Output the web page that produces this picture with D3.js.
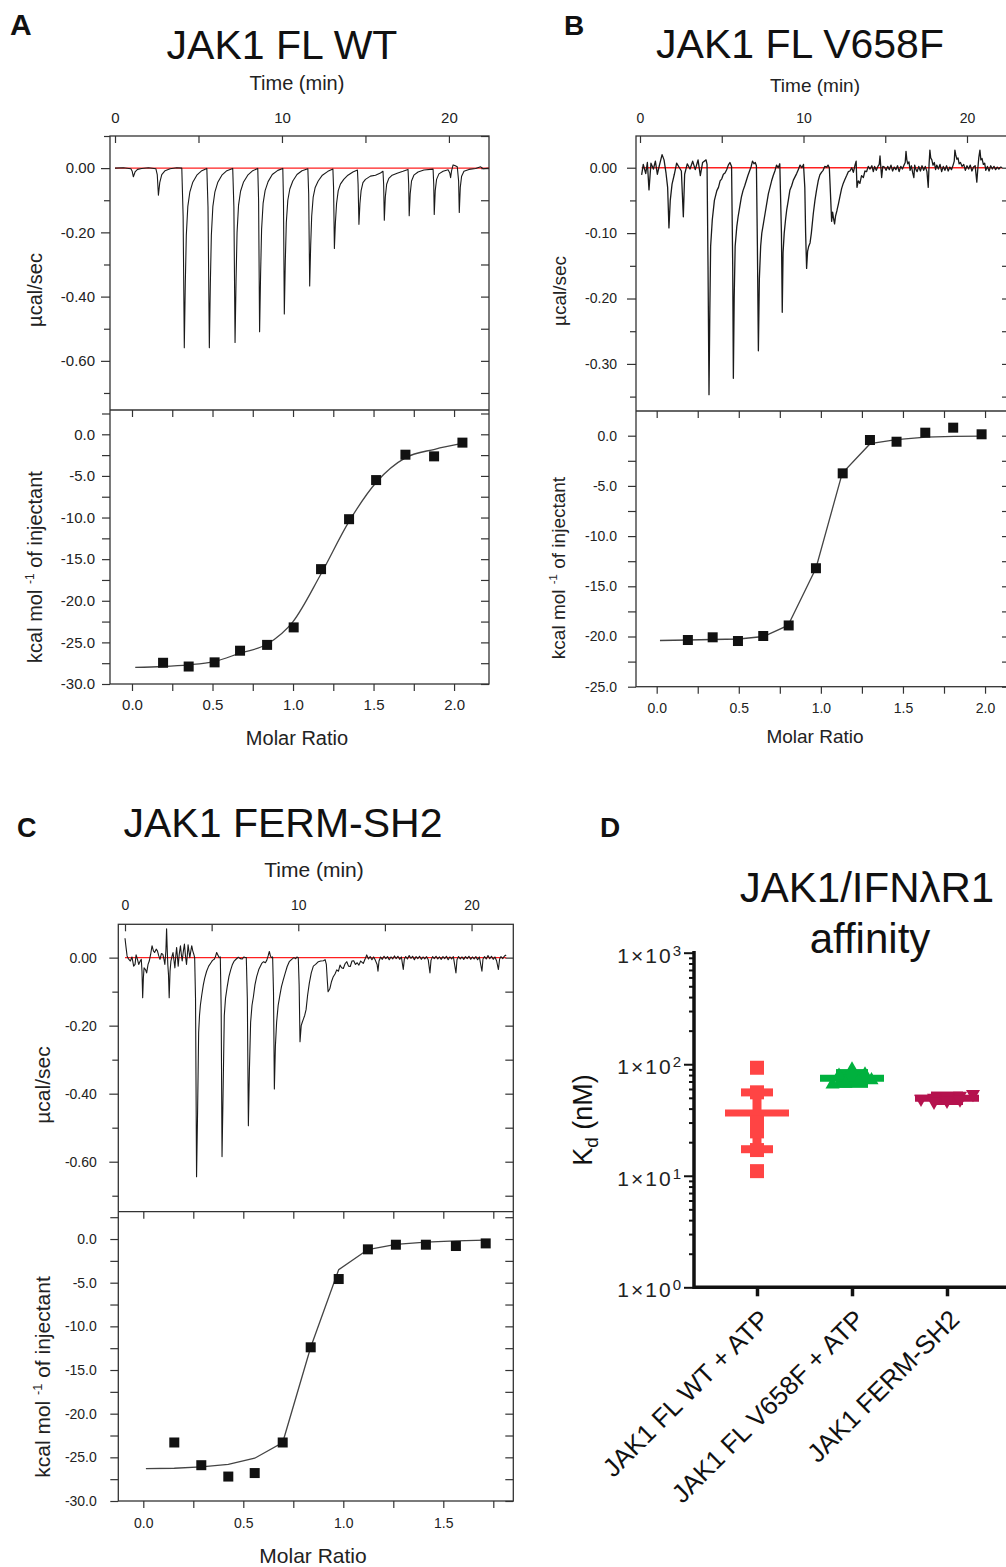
<!DOCTYPE html>
<html>
<head>
<meta charset="utf-8">
<script src="https://cdn.jsdelivr.net/npm/d3@7"></script>
<style>
  body { margin: 0; background: #fff; }
  svg { display: block; }
</style>
</head>
<body>
<script>
const FONT = '"Liberation Sans", Arial, Helvetica, sans-serif'

// ---- raw thermograms [time (min), µcal/sec] ----
const wtTrace = [[0.0,0],[0.5,0.001],[0.95,-0.002],[1.03,-0.01],[1.1,-0.027],[1.2,-0.012],[1.35,-0.004],[1.6,-0.001],[2.0,0.001],[2.45,-0.002],[2.53,-0.02],[2.6,-0.084],[2.68,-0.045],[2.8,-0.02],[3.0,-0.008],[3.3,-0.002],[3.7,0.001],[4.0,0],
  [4.08,-0.15],[4.15,-0.559],[4.21,-0.36],[4.27,-0.21],[4.36,-0.12],[4.48,-0.075],[4.65,-0.045],[4.9,-0.022],[5.2,-0.008],[5.5,-0.001],
  [5.57,-0.12],[5.65,-0.559],[5.71,-0.36],[5.77,-0.21],[5.86,-0.12],[5.98,-0.075],[6.15,-0.045],[6.4,-0.022],[6.7,-0.008],[7.05,-0.001],
  [7.12,-0.12],[7.19,-0.543],[7.25,-0.35],[7.31,-0.2],[7.4,-0.115],[7.52,-0.072],[7.7,-0.043],[7.95,-0.022],[8.25,-0.008],[8.55,-0.001],
  [8.6,-0.1],[8.66,-0.509],[8.72,-0.33],[8.78,-0.19],[8.87,-0.11],[8.99,-0.07],[9.17,-0.042],[9.42,-0.02],[9.75,-0.007],[10.05,-0.001],
  [10.09,-0.1],[10.14,-0.454],[10.2,-0.29],[10.26,-0.17],[10.35,-0.1],[10.47,-0.065],[10.65,-0.04],[10.9,-0.02],[11.2,-0.008],[11.55,-0.002],
  [11.6,-0.08],[11.66,-0.367],[11.72,-0.24],[11.78,-0.15],[11.87,-0.09],[11.99,-0.06],[12.17,-0.04],[12.42,-0.022],[12.75,-0.01],[13.05,-0.003],
  [13.09,-0.06],[13.14,-0.25],[13.2,-0.17],[13.27,-0.11],[13.37,-0.07],[13.5,-0.05],[13.7,-0.035],[13.95,-0.022],[14.25,-0.012],[14.52,-0.006],
  [14.56,-0.05],[14.61,-0.175],[14.67,-0.11],[14.74,-0.07],[14.85,-0.045],[15.0,-0.035],[15.3,-0.025],[15.6,-0.022],[15.9,-0.015],[16.05,-0.01],
  [16.09,-0.05],[16.13,-0.162],[16.19,-0.09],[16.27,-0.05],[16.4,-0.032],[16.6,-0.022],[16.9,-0.016],[17.25,-0.01],[17.55,-0.004],
  [17.59,-0.05],[17.62,-0.148],[17.68,-0.08],[17.76,-0.04],[17.9,-0.022],[18.15,-0.012],[18.5,-0.006],[19.05,-0.003],
  [19.09,-0.05],[19.12,-0.144],[19.18,-0.07],[19.26,-0.035],[19.4,-0.018],[19.65,-0.01],[19.95,-0.005],[20.05,-0.015],[20.1,-0.03],[20.16,-0.008],[20.25,0.01],[20.35,0.008],[20.5,0.004],
  [20.58,-0.04],[20.62,-0.138],[20.68,-0.06],[20.76,-0.025],[20.9,-0.01],[21.2,-0.004],[21.6,-0.001],[21.9,0.004],[22.05,-0.002],[22.4,0]]

const vfTrace = [[0.1,-0.011],[0.2,0.005],[0.35,-0.009],[0.45,0.008],[0.55,-0.034],[0.67,0.007],[0.82,-0.002],[0.94,0.01],[1.06,-0.01],[1.18,0.003],[1.35,0.02],[1.47,0.012],[1.59,-0.008],[1.69,-0.03],[1.77,-0.092],[1.85,-0.05],[1.96,-0.025],[2.1,-0.01],[2.24,0.007],[2.41,0.0],[2.53,-0.005],[2.65,-0.075],[2.73,-0.01],[2.89,0.006],[3.06,-0.002],[3.22,0.01],[3.38,-0.003],[3.55,0.012],[3.69,-0.012],[3.83,0.008],[4.04,0.012],
  [4.1,0.005],[4.16,-0.15],[4.22,-0.347],[4.27,-0.22],[4.32,-0.12],[4.42,-0.08],[4.55,-0.05],[4.7,-0.035],[4.8,-0.03],[4.9,-0.02],[5.0,-0.017],[5.1,-0.01],[5.2,-0.008],[5.3,-0.003],[5.4,0.004],[5.5,0.008],[5.6,0.002],
  [5.67,-0.15],[5.71,-0.322],[5.76,-0.2],[5.82,-0.12],[5.92,-0.09],[6.0,-0.075],[6.1,-0.06],[6.2,-0.045],[6.3,-0.035],[6.4,-0.028],[6.5,-0.02],[6.6,-0.012],[6.7,-0.005],[6.8,0.002],[6.88,0.01],[6.97,0.006],[7.05,0.008],
  [7.12,0.003],[7.18,-0.12],[7.24,-0.28],[7.3,-0.17],[7.38,-0.12],[7.45,-0.1],[7.55,-0.085],[7.65,-0.07],[7.75,-0.055],[7.85,-0.04],[7.95,-0.03],[8.05,-0.02],[8.15,-0.012],[8.25,-0.005],[8.35,0.004],[8.45,0.0],[8.55,0.006],
  [8.65,-0.1],[8.7,-0.221],[8.75,-0.13],[8.82,-0.1],[8.9,-0.08],[8.97,-0.065],[9.07,-0.05],[9.17,-0.034],[9.27,-0.028],[9.38,-0.019],[9.48,-0.014],[9.58,-0.009],[9.68,-0.003],[9.79,0.004],[9.9,0.0],[10.0,0.005],
  [10.08,-0.03],[10.13,-0.1],[10.19,-0.154],[10.25,-0.128],[10.32,-0.12],[10.4,-0.115],[10.48,-0.1],[10.6,-0.07],[10.7,-0.05],[10.8,-0.034],[10.9,-0.02],[11.0,-0.011],[11.1,-0.007],[11.2,-0.004],[11.3,0.002],[11.42,0.001],[11.5,0.004],[11.58,0.0],
  [11.65,-0.04],[11.72,-0.082],[11.78,-0.068],[11.84,-0.078],[11.9,-0.086],[11.96,-0.074],[12.05,-0.065],[12.14,-0.055],[12.23,-0.044],[12.33,-0.032],[12.43,-0.024],[12.53,-0.018],[12.64,-0.012],[12.74,-0.006],[12.84,-0.005],[12.95,0.0],[13.05,-0.007],[13.15,0.004],[13.22,0.01],[13.27,-0.03],[13.35,-0.02],[13.45,-0.024],[13.55,-0.012],[13.66,-0.015],[13.76,-0.005],[13.86,-0.006],[13.96,0.002],[14.07,-0.002],[14.18,0.003],[14.27,-0.006],[14.35,0.002],[14.45,-0.004],[14.55,0.002],[14.63,0.005],[14.68,0.018],[14.72,0.004],[14.78,-0.015],[14.85,0.002],[14.95,0.001],
  [15.05,-0.004],[15.15,0.002],[15.25,-0.003],[15.35,0.004],[15.45,-0.005],[15.55,0.001],[15.65,-0.003],[15.75,0.003],[15.85,-0.006],[15.95,0.002],[16.05,-0.002],[16.15,0.004],[16.22,0.008],[16.27,0.025],[16.32,0.012],[16.38,0.006],[16.45,0.009],[16.52,-0.004],[16.6,0.003],[16.68,-0.008],[16.75,-0.015],[16.8,0.004],[16.88,-0.003],[16.95,-0.006],[17.05,0.002],[17.15,-0.005],[17.25,0.003],[17.35,-0.004],[17.45,0.002],[17.55,-0.006],[17.63,-0.03],[17.68,0.005],[17.73,0.027],[17.78,0.015],[17.85,0.012],[17.92,0.004],[18.0,0.008],[18.08,-0.003],[18.15,0.004],[18.25,-0.002],[18.35,0.005],[18.45,-0.006],[18.55,0.002],[18.65,-0.004],[18.75,0.003],[18.85,-0.005],[18.95,0.001],[19.05,-0.003],[19.15,0.004],[19.22,0.01],[19.26,0.027],[19.31,0.02],[19.38,0.013],[19.45,0.015],[19.52,0.006],[19.6,0.008],[19.7,0.002],[19.8,0.005],[19.9,-0.004],[20.0,0.003],[20.1,-0.002],[20.2,0.004],[20.3,-0.005],[20.4,0.001],[20.5,0.003],[20.6,-0.022],[20.66,-0.002],[20.72,0.015],[20.79,0.027],[20.85,0.012],[20.92,0.014],[21.0,0.005],[21.08,0.007],[21.15,-0.004],[21.25,0.002],[21.35,-0.005],[21.45,0.003],[21.55,-0.002],[21.65,0.002],[21.75,-0.003],[21.85,0.001],[21.95,-0.002],[22.05,0.001],[22.15,0.0]]

const fsTrace = [[0.0,0.057],[0.06,0.03],[0.12,0.005],[0.2,-0.004],[0.31,-0.01],[0.4,0.002],[0.5,-0.025],[0.58,-0.02],[0.64,0.008],[0.72,-0.005],[0.79,-0.02],[0.88,-0.01],[0.94,-0.005],[0.98,-0.04],[1.02,-0.118],[1.06,-0.06],[1.1,-0.03],[1.18,-0.035],[1.25,-0.045],[1.33,-0.02],[1.4,-0.01],[1.48,0.01],[1.56,0.035],[1.64,0.02],[1.71,0.015],[1.8,0.025],[1.87,0.02],[1.95,0.005],[2.02,-0.005],[2.1,0.012],[2.18,0.01],[2.25,-0.005],[2.3,-0.02],[2.36,0.02],[2.4,0.085],[2.44,0.02],[2.47,-0.02],[2.51,-0.05],[2.55,-0.118],[2.6,-0.04],[2.65,-0.01],[2.72,0.005],[2.77,0.015],[2.83,-0.01],[2.88,-0.03],[2.93,0.005],[2.98,0.03],[3.03,0.0],[3.07,-0.025],[3.13,0.01],[3.2,0.035],[3.25,0.01],[3.3,-0.01],[3.37,0.02],[3.43,0.04],[3.49,0.005],[3.55,-0.02],[3.6,0.01],[3.64,0.038],[3.7,0.015],[3.74,0.0],[3.8,0.02],[3.85,0.035],[3.91,0.02],[3.97,0.01],[4.02,0.0],
  [4.07,-0.12],[4.13,-0.644],[4.19,-0.45],[4.25,-0.22],[4.3,-0.17],[4.35,-0.14],[4.43,-0.11],[4.52,-0.08],[4.6,-0.06],[4.71,-0.04],[4.83,-0.025],[4.96,-0.015],[5.05,-0.008],[5.15,-0.005],[5.22,0.003],[5.29,0.015],[5.36,0.008],[5.44,0.0],[5.5,0.002],
  [5.55,-0.15],[5.6,-0.585],[5.66,-0.4],[5.73,-0.17],[5.8,-0.12],[5.9,-0.085],[6.0,-0.055],[6.1,-0.036],[6.2,-0.02],[6.3,-0.01],[6.42,-0.004],[6.54,0.001],[6.65,-0.003],[6.77,-0.004],[6.85,0.002],[6.92,0.001],[7.0,0.0],
  [7.06,-0.12],[7.12,-0.494],[7.18,-0.33],[7.25,-0.19],[7.33,-0.14],[7.41,-0.115],[7.5,-0.08],[7.6,-0.056],[7.72,-0.035],[7.89,-0.017],[8.0,-0.012],[8.1,-0.015],[8.18,-0.008],[8.26,0.005],[8.33,0.018],[8.4,0.004],[8.46,0.0],[8.52,0.002],
  [8.57,-0.1],[8.62,-0.386],[8.68,-0.26],[8.75,-0.19],[8.84,-0.14],[8.94,-0.11],[9.03,-0.085],[9.13,-0.066],[9.25,-0.045],[9.36,-0.026],[9.48,-0.012],[9.62,-0.005],[9.75,0.0],[9.85,-0.003],[9.92,0.002],[10.0,0.0],
  [10.05,-0.08],[10.1,-0.247],[10.17,-0.2],[10.23,-0.19],[10.3,-0.18],[10.37,-0.17],[10.45,-0.153],[10.54,-0.11],[10.64,-0.074],[10.75,-0.045],[10.87,-0.025],[11.0,-0.02],[11.16,-0.012],[11.3,-0.01],[11.45,-0.009],[11.55,-0.006],[11.62,-0.02],
  [11.68,-0.07],[11.72,-0.1],[11.78,-0.095],[11.83,-0.09],[11.92,-0.07],[12.02,-0.056],[12.12,-0.048],[12.22,-0.036],[12.32,-0.04],[12.41,-0.022],[12.5,-0.03],[12.6,-0.032],[12.7,-0.018],[12.8,-0.012],[12.9,-0.025],[13.0,-0.026],[13.1,-0.01],[13.2,-0.009],[13.3,-0.02],[13.4,-0.015],[13.5,-0.022],[13.6,-0.01],[13.75,-0.017],[13.85,-0.005],[13.95,0.008],[14.05,-0.004],[14.15,0.003],[14.25,-0.006],[14.35,0.002],[14.45,-0.008],[14.55,-0.02],[14.6,-0.04],[14.66,-0.01],[14.75,0.002],[14.85,-0.005],[14.95,0.004],[15.05,-0.003],[15.15,0.003],[15.25,-0.006],[15.35,0.002],[15.45,-0.004],[15.55,0.005],[15.65,-0.003],[15.75,0.004],[15.85,-0.005],[15.95,0.002],[16.06,-0.035],[16.12,-0.005],[16.2,0.003],[16.3,-0.004],[16.4,0.006],[16.5,-0.002],[16.6,0.004],[16.7,-0.006],[16.8,0.003],[16.9,-0.003],[17.0,0.004],[17.1,-0.005],[17.2,0.002],[17.3,-0.004],[17.4,0.003],[17.5,-0.006],[17.6,-0.045],[17.66,-0.008],[17.75,0.003],[17.85,-0.003],[17.95,0.004],[18.05,-0.004],[18.15,0.002],[18.25,-0.005],[18.35,0.003],[18.45,-0.003],[18.55,0.004],[18.65,-0.006],[18.75,0.002],[18.85,-0.004],[18.95,0.003],[19.1,-0.045],[19.16,-0.006],[19.25,0.003],[19.35,-0.004],[19.45,0.002],[19.55,-0.005],[19.65,0.003],[19.75,-0.003],[19.85,0.004],[19.95,-0.005],[20.05,0.002],[20.15,-0.004],[20.25,0.003],[20.35,-0.006],[20.45,0.002],[20.6,-0.04],[20.66,-0.004],[20.75,0.003],[20.85,-0.004],[20.95,0.006],[21.05,-0.003],[21.15,0.004],[21.25,-0.005],[21.35,0.002],[21.45,-0.01],[21.55,-0.035],[21.62,-0.004],[21.7,0.003],[21.8,-0.003],[21.9,0.005],[22.0,0.008]]

// ---- integrated heats (kcal/mol of injectant) vs molar ratio ----
const wtRatio = [0.193, 0.352, 0.513, 0.671, 0.839, 1.004, 1.174, 1.348, 1.516, 1.698, 1.876, 2.052]
const wtHeat  = [-27.45, -27.9, -27.4, -26.0, -25.3, -23.2, -16.2, -10.2, -5.5, -2.45, -2.65, -1.0]
const wtFitX  = [0.02, 0.19, 0.35, 0.51, 0.67, 0.84, 1.0, 1.17, 1.35, 1.52, 1.70, 1.88, 2.05]
const wtFitY  = [-28.0, -27.9, -27.7, -27.3, -26.3, -25.2, -22.5, -16.9, -10.4, -5.7, -2.8, -1.8, -1.1]

const vfRatio = [0.19, 0.341, 0.495, 0.649, 0.804, 0.970, 1.133, 1.299, 1.461, 1.636, 1.806, 1.979]
const vfHeat  = [-20.35, -20.08, -20.45, -19.95, -18.9, -13.2, -3.75, -0.43, -0.6, 0.3, 0.8, 0.14]
const vfFitX  = [0.02, 0.19, 0.34, 0.5, 0.65, 0.8, 0.97, 1.13, 1.3, 1.46, 1.64, 1.81, 1.98]
const vfFitY  = [-20.4, -20.35, -20.3, -20.25, -20.0, -18.9, -13.2, -3.75, -0.8, -0.4, -0.15, -0.07, -0.05]

const fsRatio = [0.155, 0.29, 0.425, 0.557, 0.697, 0.837, 0.977, 1.123, 1.263, 1.413, 1.563, 1.712]
const fsHeat  = [-23.3, -25.9, -27.2, -26.8, -23.3, -12.4, -4.58, -1.18, -0.65, -0.65, -0.8, -0.5]
const fsFitX  = [0.013, 0.155, 0.29, 0.425, 0.557, 0.697, 0.837, 0.977, 1.123, 1.263, 1.413, 1.563, 1.712]
const fsFitY  = [-26.3, -26.25, -26.1, -25.8, -25.1, -23.3, -12.4, -3.5, -1.2, -0.6, -0.35, -0.2, -0.12]

// ---- panel D: Kd (nM) ----
const kdGroups = ['JAK1 FL WT + ATP', 'JAK1 FL V658F + ATP', 'JAK1 FERM-SH2']
const kdWT    = [93, 56, 30, 25, 17, 11]
const kdVF    = [90, 81, 80, 79, 72, 70, 67, 66]
const kdFS    = [54, 52, 51, 50, 49, 48, 47, 46]
const kdMean  = [36.6, 75, 49.6]
const kdSd    = [19.3, 8.3, 2.8]
const kdColors = ['#ff4444', '#00b13e', '#b5124e']

const svg = d3.select('body').append('svg')
  .attr('width', 1006).attr('height', 1567)
  .attr('font-family', FONT)

function axisInto(g, axisFn, scale, vals, size, pad, fmt, fs) {
  g.call(axisFn(scale).tickValues(vals).tickSize(size).tickPadding(pad).tickFormat(fmt))
  g.attr('font-family', FONT).attr('font-size', fs)
  g.select('.domain').remove()
  g.selectAll('line').attr('stroke', '#333').attr('stroke-width', 1.2)
  g.selectAll('text').attr('fill', '#222')
}

function inDom(vals, dom) {
  let lo = Math.min(...dom), hi = Math.max(...dom)
  return vals.filter(v => v >= lo - 1e-9 && v <= hi + 1e-9)
}

function itcPanel(p) {
  let g = svg.append('g')
  let tx = d3.scaleLinear().domain(p.tDom).range([p.left, p.right])
  let py = d3.scaleLinear().domain(p.pDom).range([p.mid, p.top])
  let mx = d3.scaleLinear().domain(p.mDom).range([p.left, p.right])
  let hy = d3.scaleLinear().domain(p.hDom).range([p.bottom, p.mid])
  let fs = p.tickFont

  // top plot axes
  axisInto(g.append('g').attr('transform', `translate(0,${p.top})`), d3.axisTop, tx, [0, 10, 20], -7, p.padTop, d3.format('d'), fs)
  axisInto(g.append('g').attr('transform', `translate(0,${p.top})`), d3.axisTop, tx, [5, 15], -7, 0, '', fs)
  axisInto(g.append('g').attr('transform', `translate(${p.left},0)`), d3.axisLeft, py, inDom(p.pMajor, p.pDom), 9, p.padLeft, v => v.toFixed(2), fs)
  axisInto(g.append('g').attr('transform', `translate(${p.left},0)`), d3.axisLeft, py, inDom(p.pMinor, p.pDom), 6, 0, '', fs)
  axisInto(g.append('g').attr('transform', `translate(${p.right},0)`), d3.axisRight, py, inDom(p.pMajor.concat(p.pMinor), p.pDom), -8, 0, '', fs)

  // bottom plot axes
  let mMaj = inDom(p.mMajor, p.mDom), mMin = inDom(p.mMinor, p.mDom)
  axisInto(g.append('g').attr('transform', `translate(0,${p.bottom})`), d3.axisBottom, mx, mMaj, 7, p.padBottom, v => v.toFixed(1), fs)
  axisInto(g.append('g').attr('transform', `translate(0,${p.bottom})`), d3.axisBottom, mx, mMin, 7, 0, '', fs)
  axisInto(g.append('g').attr('transform', `translate(0,${p.mid})`), d3.axisTop, mx, mMaj.concat(mMin), -7, 0, '', fs)
  let hMaj = inDom(d3.range(0, -31, -5), p.hDom), hMin = inDom(d3.range(2.5, -31, -5), p.hDom)
  axisInto(g.append('g').attr('transform', `translate(${p.left},0)`), d3.axisLeft, hy, hMaj, 8, p.padLeft + 1, v => v.toFixed(1), fs)
  axisInto(g.append('g').attr('transform', `translate(${p.left},0)`), d3.axisLeft, hy, hMin, 8, 0, '', fs)
  axisInto(g.append('g').attr('transform', `translate(${p.right},0)`), d3.axisRight, hy, hMaj.concat(hMin), -8, 0, '', fs)

  // frames
  g.append('rect').attr('x', p.left).attr('y', p.top)
    .attr('width', p.right - p.left).attr('height', p.bottom - p.top)
    .attr('fill', 'none').attr('stroke', '#333').attr('stroke-width', 1.3)
  g.append('line').attr('x1', p.left).attr('x2', p.right).attr('y1', p.mid).attr('y2', p.mid)
    .attr('stroke', '#333').attr('stroke-width', 1.3)

  // thermogram + baseline
  g.append('line')
    .attr('x1', tx(p.trace[0][0])).attr('x2', tx(p.trace[p.trace.length - 1][0]))
    .attr('y1', py(0)).attr('y2', py(0))
    .attr('stroke', '#ff2020').attr('stroke-width', 1.4)
  g.append('path').datum(p.trace)
    .attr('d', d3.line().x(d => tx(d[0])).y(d => py(d[1])))
    .attr('fill', 'none').attr('stroke', '#1a1a1a').attr('stroke-width', p.traceWidth)
    .attr('stroke-linejoin', 'round')

  // fit + points
  let fit = p.fitX.map((x, i) => [x, p.fitY[i]])
  g.append('path').datum(fit)
    .attr('d', d3.line().curve(p.smooth ? d3.curveMonotoneX : d3.curveLinear).x(d => mx(d[0])).y(d => hy(d[1])))
    .attr('fill', 'none').attr('stroke', '#444').attr('stroke-width', 1.3)
  let s = p.marker
  g.append('g').selectAll('rect')
    .data(p.ratio.map((x, i) => [x, p.heat[i]]))
    .join('rect')
      .attr('x', d => mx(d[0]) - s / 2).attr('y', d => hy(d[1]) - s / 2)
      .attr('width', s).attr('height', s).attr('fill', '#111')

  // texts
  g.append('text').text(p.letter).attr('x', p.letterPos[0]).attr('y', p.letterPos[1])
    .attr('font-size', p.letterSize).attr('font-weight', 'bold').attr('fill', '#111')
  g.append('text').text(p.title).attr('x', p.titlePos[0]).attr('y', p.titlePos[1])
    .attr('font-size', 41).attr('text-anchor', 'middle').attr('fill', '#111')
  g.append('text').text('Time (min)').attr('x', p.timePos[0]).attr('y', p.timePos[1])
    .attr('font-size', p.labelSize).attr('text-anchor', 'middle').attr('fill', '#222')
  g.append('text').text('Molar Ratio').attr('x', p.molarPos[0]).attr('y', p.molarPos[1])
    .attr('font-size', p.labelSize).attr('text-anchor', 'middle').attr('fill', '#222')
  g.append('text').text('µcal/sec')
    .attr('transform', `translate(${p.yl1[0]},${p.yl1[1]}) rotate(-90)`)
    .attr('font-size', p.labelSize).attr('text-anchor', 'middle').attr('fill', '#222')
  let t2 = g.append('text')
    .attr('transform', `translate(${p.yl2[0]},${p.yl2[1]}) rotate(-90)`)
    .attr('font-size', p.labelSize).attr('text-anchor', 'middle').attr('fill', '#222')
  t2.append('tspan').text('kcal mol ')
  t2.append('tspan').text('-1').attr('font-size', p.labelSize * 0.6).attr('dy', -p.labelSize * 0.4)
  t2.append('tspan').text(' of injectant').attr('dy', p.labelSize * 0.4)
}

itcPanel({
  letter: 'A', letterPos: [10, 35], letterSize: 30,
  title: 'JAK1 FL WT', titlePos: [282, 59],
  timePos: [297, 90], molarPos: [297, 745], yl1: [42, 290], yl2: [42, 567], labelSize: 20,
  left: 110, right: 489, top: 136, mid: 410, bottom: 684,
  tDom: [-0.3, 22.4], pDom: [-0.753, 0.1], mDom: [-0.1366, 2.217], hDom: [-30, 2.92],
  pMajor: [0, -0.2, -0.4, -0.6], pMinor: [0.1, -0.1, -0.3, -0.5, -0.7],
  mMajor: [0, 0.5, 1, 1.5, 2], mMinor: [0.25, 0.75, 1.25, 1.75, 2.25],
  tickFont: 15, padTop: 13, padLeft: 6, padBottom: 8,
  trace: wtTrace, traceWidth: 1.1,
  ratio: wtRatio, heat: wtHeat, fitX: wtFitX, fitY: wtFitY, smooth: true, marker: 10
})

itcPanel({
  letter: 'B', letterPos: [564, 35], letterSize: 28,
  title: 'JAK1 FL V658F', titlePos: [800, 58],
  timePos: [815, 92], molarPos: [815, 743], yl1: [566, 291], yl2: [565, 568], labelSize: 19,
  left: 636, right: 1010, top: 136, mid: 411, bottom: 686.7,
  tDom: [-0.245, 22.63], pDom: [-0.372, 0.0485], mDom: [-0.126, 2.152], hDom: [-25, 2.46],
  pMajor: [0, -0.1, -0.2, -0.3], pMinor: [-0.05, -0.15, -0.25, -0.35],
  mMajor: [0, 0.5, 1, 1.5, 2], mMinor: [0.25, 0.75, 1.25, 1.75],
  tickFont: 14, padTop: 13, padLeft: 10, padBottom: 9.5,
  trace: vfTrace, traceWidth: 1.3,
  ratio: vfRatio, heat: vfHeat, fitX: vfFitX, fitY: vfFitY, smooth: false, marker: 10
})

itcPanel({
  letter: 'C', letterPos: [17, 837], letterSize: 27,
  title: 'JAK1 FERM-SH2', titlePos: [283, 837],
  timePos: [314, 877], molarPos: [313, 1563], yl1: [50, 1085], yl2: [50, 1377], labelSize: 21,
  left: 118.3, right: 513.3, top: 924.3, mid: 1211.7, bottom: 1501,
  tDom: [-0.387, 22.41], pDom: [-0.747, 0.098], mDom: [-0.125, 1.85], hDom: [-30, 3.13],
  pMajor: [0, -0.2, -0.4, -0.6], pMinor: [-0.1, -0.3, -0.5, -0.7],
  mMajor: [0, 0.5, 1, 1.5], mMinor: [0.25, 0.75, 1.25, 1.75],
  tickFont: 14, padTop: 14, padLeft: 12.5, padBottom: 10,
  trace: fsTrace, traceWidth: 1.1,
  ratio: fsRatio, heat: fsHeat, fitX: fsFitX, fitY: fsFitY, smooth: false, marker: 10
})

// ---- panel D ----
function panelD() {
  let g = svg.append('g')
  let x = d3.scalePoint().domain(kdGroups).range([757, 947])
  let y = d3.scaleLog().domain([1, 1000]).range([1287.3, 952.7])

  // y axis: majors + log minors
  let minors = []
  for (let k = 0; k < 3; k++) for (let m = 2; m <= 9; m++) minors.push(m * Math.pow(10, k))
  let ga = g.append('g').attr('transform', 'translate(694,0)')
  ga.call(d3.axisLeft(y).tickValues([1, 10, 100, 1000]).tickSize(10).tickFormat(''))
  ga.select('.domain').remove()
  let gm = g.append('g').attr('transform', 'translate(694,0)')
  gm.call(d3.axisLeft(y).tickValues(minors).tickSize(5).tickFormat(''))
  gm.select('.domain').remove()
  g.selectAll('.tick line').attr('stroke', '#111').attr('stroke-width', 2)

  let lab = g.append('g').selectAll('text').data([1, 10, 100, 1000]).join('text')
    .attr('x', 683).attr('y', d => y(d) + 10)
    .attr('text-anchor', 'end').attr('font-size', 21).attr('letter-spacing', 2).attr('fill', '#222')
  lab.append('tspan').text('1×10')
  lab.append('tspan').text(d => Math.round(Math.log10(d))).attr('font-size', 15).attr('dy', -7)

  // x axis
  let gx = g.append('g').attr('transform', 'translate(0,1287.3)')
  gx.call(d3.axisBottom(x).tickSize(9).tickFormat(''))
  gx.select('.domain').remove()
  gx.selectAll('line').attr('stroke', '#111').attr('stroke-width', 3.5)
  g.append('path').attr('d', 'M694,951 V1287.3 H1010')
    .attr('fill', 'none').attr('stroke', '#111').attr('stroke-width', 3.5)

  g.append('g').selectAll('text').data(kdGroups).join('text')
    .attr('transform', d => `translate(${x(d) + 14},1321) rotate(-45)`)
    .attr('text-anchor', 'end').attr('font-size', 26).attr('fill', '#111')
    .text(d => d)

  // points: rows of close values spread sideways
  let groups = [kdWT, kdVF, kdFS]
  let symbols = ['square', 'up', 'down']
  groups.forEach((vals, gi) => {
    let cx = x(kdGroups[gi])
    let col = kdColors[gi]
    let sorted = vals.slice().sort((a, b) => b - a)
    let rows = []
    sorted.forEach(v => {
      let last = rows[rows.length - 1]
      if (last && y(v) - y(last[0]) < 5) last.push(v)
      else rows.push([v])
    })
    let pts = []
    rows.forEach(r => r.forEach((v, i) => pts.push({ v, dx: ((r.length - 1) / 2 - i) * 13 })))

    let eg = g.append('g').attr('stroke', col).attr('fill', 'none')
    let m = kdMean[gi], sd = kdSd[gi]
    eg.append('line').attr('x1', cx).attr('x2', cx).attr('y1', y(m + sd)).attr('y2', y(m - sd)).attr('stroke-width', 9)
    eg.append('line').attr('x1', cx - 16).attr('x2', cx + 16).attr('y1', y(m + sd)).attr('y2', y(m + sd)).attr('stroke-width', 8)
    eg.append('line').attr('x1', cx - 16).attr('x2', cx + 16).attr('y1', y(m - sd)).attr('y2', y(m - sd)).attr('stroke-width', 8)
    eg.append('line').attr('x1', cx - 32).attr('x2', cx + 32).attr('y1', y(m)).attr('y2', y(m)).attr('stroke-width', 7)

    let pg = g.append('g').attr('fill', col)
    if (symbols[gi] === 'square') {
      pg.selectAll('rect').data(pts).join('rect')
        .attr('x', d => cx + d.dx - 7).attr('y', d => y(d.v) - 7)
        .attr('width', 14).attr('height', 14)
    } else {
      let rot = symbols[gi] === 'down' ? 180 : 0
      pg.selectAll('path').data(pts).join('path')
        .attr('d', d3.symbol(d3.symbolTriangle, 85))
        .attr('transform', d => `translate(${cx + d.dx},${y(d.v)}) rotate(${rot})`)
    }
  })

  // texts
  g.append('text').text('D').attr('x', 600).attr('y', 837)
    .attr('font-size', 28).attr('font-weight', 'bold').attr('fill', '#111')
  g.append('text').text('JAK1/IFNλR1').attr('x', 867).attr('y', 902)
    .attr('font-size', 42).attr('text-anchor', 'middle').attr('fill', '#111')
  g.append('text').text('affinity').attr('x', 870).attr('y', 953)
    .attr('font-size', 42).attr('text-anchor', 'middle').attr('fill', '#111')
  let kl = g.append('text').attr('transform', 'translate(592,1120) rotate(-90)')
    .attr('font-size', 27).attr('text-anchor', 'middle').attr('fill', '#111')
  kl.append('tspan').text('K')
  kl.append('tspan').text('d').attr('font-size', 19).attr('dy', 6)
  kl.append('tspan').text(' (nM)').attr('dy', -6)
}
panelD()
</script>
</body>
</html>
